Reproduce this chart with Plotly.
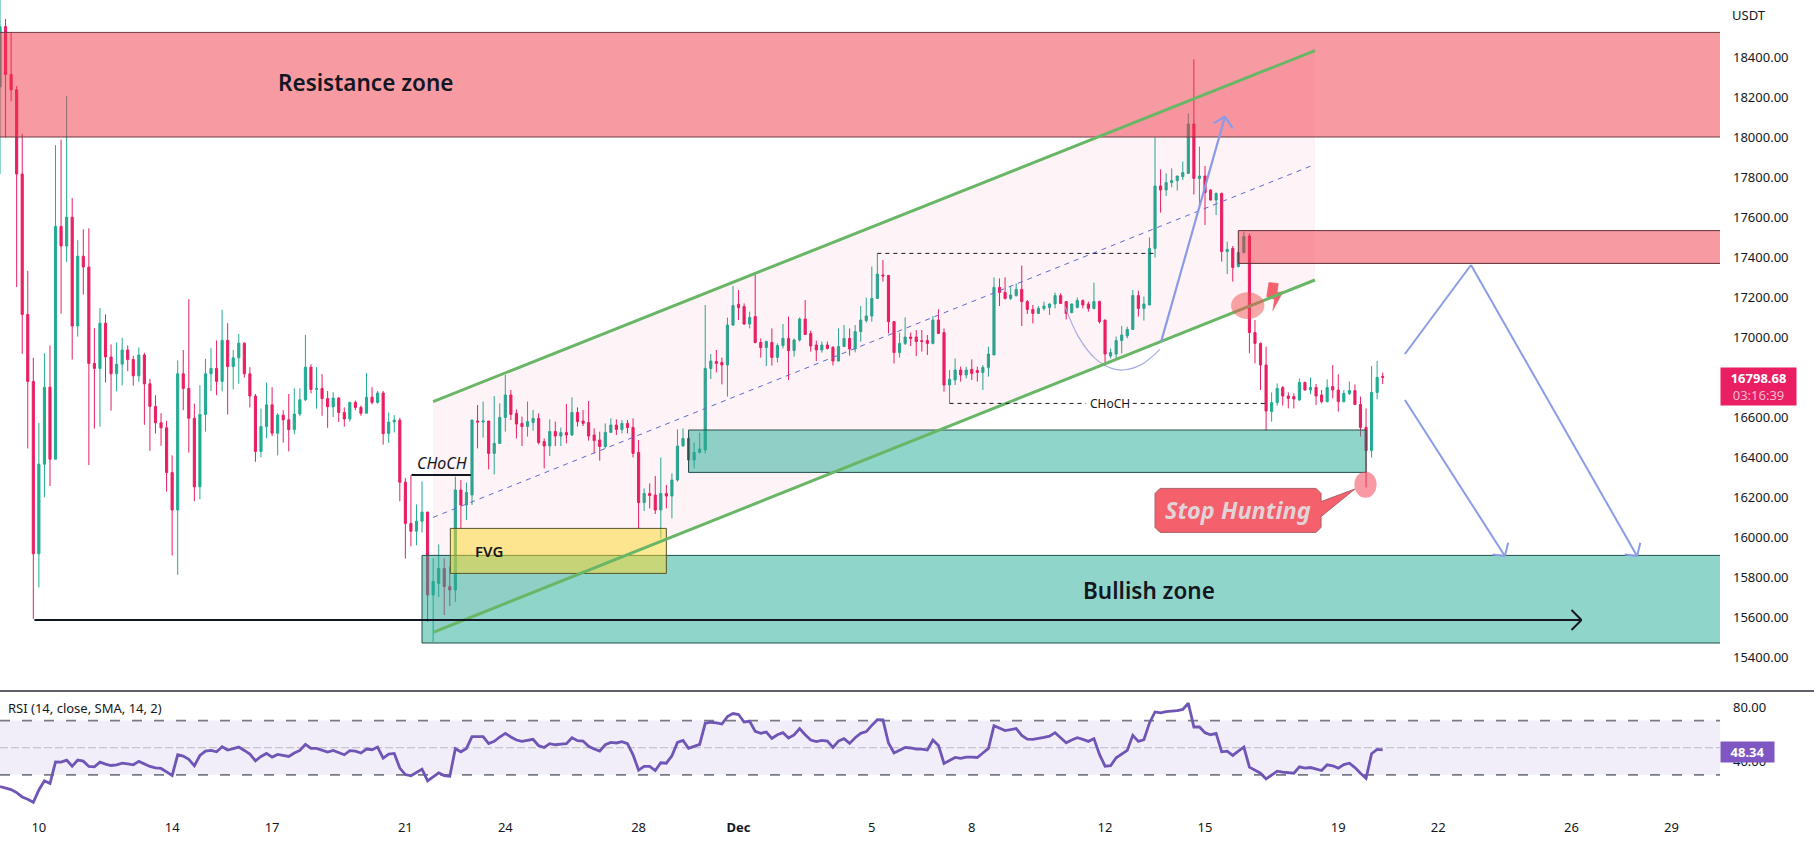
import datetime as dt
import plotly.graph_objects as go

opens = [
 18250,18552,18313,18236,17815,17113,16778,15916,16364,16749,
 16389,17553,17455,17599,17055,17404,17350,16868,16843,17069,
 16900,16816,16864,16935,16887,16806,16910,16766,16653,16571,
 16546,16322,16135,16816,16743,16594,16251,16613,16816,16843,
 16778,16983,16852,16896,16969,16816,16705,16428,16552,16661,
 16519,16609,16586,16537,16615,16686,16849,16738,16743,16692,
 16651,16695,16623,16590,16673,16648,16619,16699,16673,16720,
 16517,16575,16584,16274,16068,16029,16079,16125,15710,15768,
 15843,15752,15735,16235,16160,16210,16580,16575,16580,16418,
 16468,16598,16710,16618,16568,16552,16572,16593,16477,16455,
 16527,16505,16522,16510,16623,16580,16572,16510,16485,16452,
 16523,16560,16538,16568,16548,16423,16172,16218,16210,16135,
 16218,16205,16285,16455,16493,16385,16423,16435,16843,16877,
 16873,16860,17060,17163,17152,17065,17102,16973,16947,16973,
 16898,16957,16993,16932,16985,17090,17018,16960,16935,16960,
 16948,16880,16952,16993,16940,17027,17082,17105,17193,17310,
 17308,17077,16922,16968,17000,17000,16982,16982,16968,17085,
 17022,16760,16785,16835,16810,16838,16832,16823,16848,16910,
 17248,17223,17193,17207,17238,17177,17138,17118,17143,17148,
 17165,17207,17177,17122,17148,17182,17165,17143,17177,17085,
 16905,16915,16982,17005,17038,17207,17143,17160,17443,17755,
 17735,17772,17782,17802,17818,18065,17793,17805,17735,17685,
 17718,17427,17443,17352,17422,17505,17022,16968,16860,16627,
 16672,16747,16705,16702,16685,16773,16735,16748,16710,16677,
 16752,16735,16677,16718,16732,16663,16548,16432,16723,16802,
]
closes = [
 18552,18313,18236,17815,17113,16778,15916,16364,16749,16389,
 17553,17455,17599,17055,17404,17350,16868,16843,17069,16900,
 16816,16864,16935,16887,16806,16910,16766,16653,16571,16546,
 16322,16135,16816,16743,16594,16251,16613,16816,16843,16778,
 16983,16852,16896,16969,16816,16705,16428,16552,16661,16519,
 16609,16586,16537,16615,16686,16849,16738,16743,16692,16651,
 16695,16623,16590,16673,16648,16619,16699,16673,16720,16517,
 16575,16584,16274,16068,16029,16079,16125,15710,15777,15843,
 15752,15735,16235,16160,16223,16585,16575,16580,16418,16468,
 16598,16710,16613,16565,16552,16577,16593,16473,16455,16527,
 16505,16522,16510,16623,16577,16568,16505,16482,16452,16523,
 16560,16538,16568,16547,16418,16172,16218,16207,16135,16218,
 16205,16285,16455,16493,16385,16423,16440,16843,16880,16868,
 16860,17060,17157,17147,17065,17098,16973,16947,16977,16898,
 16957,16993,16932,16985,17090,17013,16955,16935,16960,16943,
 16880,16952,16993,16940,17027,17085,17105,17193,17315,17305,
 17077,16922,16968,17000,16993,16977,16977,16968,17085,17018,
 16760,16788,16835,16810,16835,16818,16823,16848,16915,17248,
 17223,17193,17210,17238,17177,17138,17118,17143,17155,17165,
 17207,17168,17118,17165,17182,17160,17143,17177,17077,16915,
 16922,16982,17010,17038,17207,17143,17165,17443,17755,17735,
 17772,17782,17805,17822,18065,17793,17805,17722,17685,17718,
 17427,17438,17348,17422,17502,17022,16968,16860,16630,16672,
 16743,16705,16693,16690,16773,16735,16748,16705,16677,16747,
 16735,16677,16718,16732,16663,16548,16432,16723,16798,16798.68,
]
highs = [
 18690,18590,18523,18255,18016,17331,16896,16571,16919,16958,
 17959,17987,18204,17695,17484,17538,17543,17044,17145,17113,
 16963,16973,16996,16958,16906,16948,16921,16791,16709,16619,
 16581,16408,16883,16935,17189,16667,16759,16891,16944,16983,
 17136,17069,16935,17015,16973,16849,16715,16642,16772,16749,
 16619,16634,16715,16743,16743,17011,16864,16849,16814,16730,
 16724,16699,16648,16676,16682,16657,16820,16749,16730,16730,
 16623,16609,16596,16294,16309,16163,16278,16125,15893,15963,
 15893,15852,16302,16285,16272,16585,16660,16677,16580,16705,
 16668,16810,16735,16638,16602,16677,16635,16618,16493,16588,
 16577,16547,16665,16698,16648,16635,16680,16543,16527,16568,
 16593,16588,16585,16585,16593,16485,16243,16268,16305,16397,
 16260,16318,16538,16543,16518,16472,16522,17160,16915,16935,
 16897,17097,17255,17235,17168,17127,17323,16993,16982,17043,
 16968,17065,17102,16993,17098,17185,17032,16982,16977,16977,
 16955,17043,17060,17043,17060,17155,17197,17352,17418,17385,
 17310,17080,17022,17098,17022,17035,17035,17010,17105,17138,
 17043,16835,16893,16852,16852,16888,16852,16860,16952,17298,
 17293,17298,17252,17268,17357,17185,17160,17155,17177,17168,
 17222,17218,17177,17168,17198,17188,17177,17272,17182,17085,
 16943,17002,17055,17052,17235,17232,17202,17498,17998,17838,
 17818,17843,17805,17877,18118,18388,17952,17855,17738,17723,
 17722,17477,17455,17427,17527,17518,17085,16972,16952,16723,
 16768,16755,16723,16718,16793,16777,16798,16765,16735,16788,
 16860,16813,16735,16777,16763,16702,16643,16855,16880,16822,
]
lows = [
 17815,17997,18179,17250,16916,16443,15590,15748,16198,16255,
 16389,17117,17375,16887,17002,17212,16360,16542,16552,16772,
 16632,16728,16757,16829,16757,16776,16561,16431,16517,16456,
 16227,15907,15811,16634,16422,16179,16188,16527,16730,16709,
 16728,16613,16738,16766,16797,16648,16376,16399,16494,16504,
 16408,16472,16428,16514,16604,16680,16718,16642,16606,16546,
 16600,16575,16552,16577,16634,16606,16619,16663,16667,16462,
 16470,16523,16179,15892,15953,15959,16022,15575,15475,15700,
 15610,15655,15675,16043,16085,16160,16443,16497,16338,16313,
 16468,16527,16585,16493,16455,16502,16532,16463,16343,16405,
 16455,16455,16468,16505,16552,16555,16482,16418,16382,16443,
 16523,16510,16518,16518,16398,16043,16130,16143,16115,15993,
 16143,16093,16277,16452,16327,16343,16418,16418,16790,16823,
 16763,16702,17055,17085,17060,17043,16968,16897,16855,16857,
 16873,16943,16785,16902,16977,17010,16927,16880,16922,16938,
 16857,16877,16952,16907,16923,16977,17072,17077,17190,17277,
 17018,16868,16897,16960,16955,16905,16927,16910,16963,17015,
 16727,16668,16760,16777,16793,16785,16777,16735,16802,16910,
 17155,17188,17185,17202,17055,17115,17068,17115,17132,17110,
 17143,17165,17088,17118,17143,17143,17127,17138,17068,16863,
 16893,16893,16918,16993,17035,17102,17082,17160,17397,17622,
 17705,17748,17732,17785,17815,17713,17657,17560,17682,17610,
 17377,17315,17277,17348,17418,16918,16868,16735,16530,16577,
 16657,16657,16643,16643,16682,16732,16715,16660,16668,16673,
 16693,16627,16672,16710,16660,16502,16248,16397,16688,16765,
]
rsi = [
 21.4,20.1,19.1,16.9,13.7,12.0,9.8,18.9,25.6,23.6,
 39.6,39.4,40.9,36.4,40.9,40.1,36.2,35.9,39.4,37.9,
 36.9,37.4,38.6,38.1,37.4,39.9,38.1,36.2,35.2,34.7,
 32.2,29.5,44.8,43.8,41.4,36.7,44.3,47.5,48.0,47.0,
 50.7,48.3,49.3,50.5,48.0,45.3,40.4,43.6,45.8,43.1,
 45.1,44.6,43.6,46.1,48.0,52.5,49.5,49.5,48.0,46.8,
 48.0,46.1,44.8,47.8,47.5,46.1,49.0,48.5,50.5,42.3,
 45.3,45.8,35.0,30.2,29.3,31.7,34.2,25.6,28.8,31.5,
 29.5,29.0,49.3,47.0,49.5,58.2,58.2,58.2,53.0,54.7,
 57.9,60.6,57.9,55.7,54.7,55.4,56.2,51.5,50.2,53.0,
 52.2,52.7,53.0,57.4,55.2,54.9,51.0,49.0,47.5,52.2,
 53.9,53.5,54.5,53.0,44.8,33.5,36.2,36.2,33.2,38.9,
 38.6,44.1,53.9,55.4,49.5,51.0,52.5,68.0,68.8,68.3,
 67.5,73.0,75.2,74.5,69.0,69.5,62.1,60.6,61.6,56.9,
 59.6,61.1,57.2,59.4,64.1,59.6,55.7,54.5,55.4,54.9,
 50.2,54.9,56.7,53.2,57.4,60.6,61.9,66.5,70.7,70.5,
 53.5,46.1,48.3,50.2,49.8,49.0,49.0,48.3,55.7,51.7,
 38.4,40.4,42.8,42.1,43.1,43.1,42.8,46.1,49.5,66.3,
 64.6,62.6,63.3,64.1,59.1,56.4,56.2,56.7,57.7,58.6,
 61.1,57.4,53.7,55.7,57.4,56.2,54.7,56.7,45.1,36.4,
 36.7,42.6,45.6,48.0,59.1,54.7,55.9,68.3,76.4,75.7,
 76.7,76.9,77.4,78.2,82.8,65.3,65.3,61.1,59.6,60.6,
 47.0,47.5,44.3,47.5,50.5,35.7,33.7,31.2,27.0,29.7,
 32.7,32.0,31.5,31.2,35.9,35.0,35.4,34.2,33.2,37.4,
 36.7,35.0,37.6,38.6,35.4,31.2,27.5,45.6,48.8,48.34,
]
tick_dates = ["2022-11-10","2022-11-14","2022-11-17","2022-11-21","2022-11-24","2022-11-28","2022-12-01",
              "2022-12-05","2022-12-08","2022-12-12","2022-12-15","2022-12-19","2022-12-22","2022-12-26","2022-12-29"]
tick_labels = ["10","14","17","21","24","28","<b>Dec</b>","5","8","12","15","19","22","26","29"]
price_ticks = [15400,15600,15800,16000,16200,16400,16600,16800,17000,17200,17400,17600,17800,18000,18200,18400]

W, H, PW, PH = 1814, 845, 1720, 812
BAR_PX = 5.553
BASE = dt.datetime(2022, 11, 8, 20, 0)
FONT = "Noto Sans"
INK = "#131722"
GREEN, RED = "#22AB94", "#E91E63"

def at(i):
    return (BASE + dt.timedelta(hours=4 * i)).isoformat()
def ts(values):
    return [at(v) for v in values]
def px(x):
    return x / PW
def py(y):
    return 1 - y / PH

dates = ts(range(len(opens)))
XR = [at(0), at(PW / BAR_PX)]

fig = go.Figure()

# channel fill
fig.add_trace(go.Scatter(x=ts([78, 236.8, 236.8, 78]), y=[16677, 18432, 17285, 15523], fill="toself",
                         mode="none", fillcolor="rgba(233,30,99,0.055)", hoverinfo="skip"))
fig.add_trace(go.Candlestick(x=dates, open=opens, high=highs, low=lows, close=closes, whiskerwidth=0,
    increasing=dict(line=dict(color=GREEN, width=1), fillcolor=GREEN),
    decreasing=dict(line=dict(color=RED, width=1), fillcolor=RED), hoverinfo="skip"))
# curved path
fig.add_trace(go.Scatter(x=ts([191.8, 194.2, 197.2, 200.2, 202.3, 205.6, 208.9]),
                         y=[17152, 17002, 16893, 16843, 16835, 16863, 16938], mode="lines",
                         line=dict(color="#A7AEE0", width=1.2, shape="spline"), hoverinfo="skip"))
# lightning bolt
fig.add_trace(go.Scatter(x=ts([228.5, 230.2, 230.0, 231.1, 229.2, 229.5, 228.1, 228.5]),
                         y=[17273, 17268, 17222, 17227, 17132, 17188, 17202, 17273], mode="lines", fill="toself",
                         fillcolor="#F4606C", line=dict(color="#F4606C", width=0.5), hoverinfo="skip"))
# Stop Hunting callout
cx0, cx1, cy0, cy1 = 208.0, 237.9, 16023, 16243
fig.add_trace(go.Scatter(
    x=ts([cx0 + .9, cx1 - .9, cx1, cx1, 244.0, cx1, cx1, cx1 - .9, cx0 + .9, cx0, cx0, cx0 + .9]),
    y=[cy1, cy1, cy1 - 25, 16177, 16240, 16102, cy0 + 25, cy0, cy0, cy0 + 25, cy1 - 25, cy1],
    mode="lines", fill="toself", fillcolor="#F4606C", line=dict(color="#A9626C", width=1), hoverinfo="skip"))
# RSI
fig.add_trace(go.Scatter(x=dates, y=rsi, mode="lines", xaxis="x2", yaxis="y2",
                         line=dict(color="#6F55B5", width=2.8), hoverinfo="skip"))

shapes = []
def rect(i0, i1, p0, p1, fill, border):
    shapes.append(dict(type="rect", xref="x", yref="y", x0=at(i0), x1=at(i1), y0=p0, y1=p1,
                       fillcolor=fill, line=dict(color=border, width=1), layer="above"))
def seg(i0, p0, i1, p1, color, width=1, dash="solid"):
    shapes.append(dict(type="line", xref="x", yref="y", x0=at(i0), x1=at(i1), y0=p0, y1=p1,
                       line=dict(color=color, width=width, dash=dash), layer="above"))
def oval(ic, pc, ri, rp, fill):
    shapes.append(dict(type="circle", xref="x", yref="y", x0=at(ic - ri), x1=at(ic + ri), y0=pc - rp, y1=pc + rp,
                       fillcolor=fill, line=dict(width=0), layer="above"))

rect(-5, 330, 18000, 18523, "rgba(242,54,69,0.5)", "#6E3B40")
rect(223, 330, 17368, 17532, "rgba(242,54,69,0.5)", "#5E3035")
rect(76, 330, 15470, 15908, "rgba(34,171,148,0.5)", "#1D4F4A")
rect(124, 246, 16323, 16535, "rgba(34,171,148,0.5)", "#24504B")
rect(81.1, 120, 15818, 16043, "rgba(252,215,40,0.5)", "#55552A")

CH = "#69B666"
seg(78, 16677, 236.8, 18432, CH, 3)
seg(78, 15523, 236.8, 17285, CH, 3)
seg(78, 16098, 236.8, 17863, "#5E6AD2", 1, "5px,5px")

seg(6.2, 15585, 284.8, 15585, INK, 2)
seg(283, 15635, 284.8, 15585, INK, 2)
seg(283, 15535, 284.8, 15585, INK, 2)
seg(74.1, 16310, 84.8, 16310, INK, 2)
seg(158, 17418, 208, 17418, INK, 1, "4px,4px")
seg(171, 16668, 195.6, 16668, INK, 1, "4px,4px")
seg(204, 16668, 228, 16668, INK, 1, "4px,4px")

BLUE = "#8A9BE8"
seg(209.1, 16977, 220.6, 18102, BLUE, 2.2)
seg(218.5, 18068, 220.6, 18102, BLUE, 2.2)
seg(222.0, 18043, 220.6, 18102, BLUE, 2.2)
seg(253, 16915, 264.9, 17360, BLUE, 2)
seg(264.9, 17360, 294.8, 15905, BLUE, 2)
seg(253, 16685, 271, 15905, BLUE, 2)
for tip in (271, 294.8):
    seg(tip + .6, 15971, tip, 15905, BLUE, 2)
    seg(tip - 2.2, 15913, tip, 15905, BLUE, 2)

oval(224.7, 17157, 3, 67, "rgba(240,80,80,0.5)")
oval(245.9, 16262, 2, 66, "rgba(242,70,90,0.55)")

# RSI pane
shapes.append(dict(type="rect", xref="paper", yref="y2", x0=0, x1=1, y0=30, y1=70,
                   fillcolor="rgba(126,87,194,0.1)", line=dict(width=0), layer="below"))
for lvl in (30, 70):
    shapes.append(dict(type="line", xref="paper", yref="y2", x0=0, x1=1, y0=lvl, y1=lvl,
                       line=dict(color="#787B86", width=1.8, dash="10px,12px"), layer="below"))
shapes.append(dict(type="line", xref="paper", yref="y2", x0=0, x1=1, y0=50, y1=50,
                   line=dict(color="rgba(120,123,134,0.45)", width=1, dash="8px,3px"), layer="below"))
shapes.append(dict(type="line", xref="paper", yref="paper", x0=0, x1=W / PW, y0=py(691), y1=py(691),
                   line=dict(color="#2A2E39", width=1.5)))

def note(text, i, p, size, color=INK, **kw):
    font = dict(family=FONT, size=size, color=color)
    font.update(kw.pop("font", {}))
    return dict(text=text, xref="x", yref="y", x=at(i), y=p, showarrow=False, font=font, **kw)

def pnote(text, x, y, size, color=INK, xanchor="left", **kw):
    return dict(text=text, xref="paper", yref="paper", x=px(x), y=py(y), showarrow=False, xanchor=xanchor,
                yanchor="middle", font=dict(family=FONT, size=size, color=color), **kw)

anns = [
    note("Resistance zone", 65.8, 18275, 22.5, font=dict(weight=600)),
    note("Bullish zone", 206.9, 15735, 22.5, font=dict(weight=600)),
    note("FVG", 88, 15932, 15, font=dict(weight=600)),
    note("<i>CHoCH</i>", 79.6, 16372, 16),
    note("CHoCH", 199.9, 16668, 12),
    note("<b><i>Stop Hunting</i></b>", 222.9, 16135, 23.5, color="#E3D3D6"),
    pnote("USDT", 1730, 15, 13),
    pnote("RSI (14, close, SMA, 14, 2)", 6, 708, 13),
    pnote("<b>16798.68</b><br><span style='color:#F8BBD0'>03:16:39</span>", 1720, 386.5, 13, color="white",
          bgcolor=RED, width=75, height=37, align="center", borderpad=0),
    pnote("<b>48.34</b>", 1720, 751.5, 13, color="white", bgcolor="#7E57C2", width=53, height=20,
          align="center", borderpad=0),
]

axis_common = dict(showgrid=False, zeroline=False, showline=False)
fig.update_layout(
    width=W, height=H, margin=dict(l=0, r=W - PW, t=0, b=H - PH), showlegend=False, boxgap=0.45,
    paper_bgcolor="white", plot_bgcolor="white", font=dict(family=FONT, color=INK, size=13),
    xaxis=dict(domain=[0, 1], type="date", range=XR, anchor="y", showticklabels=False,
               rangeslider=dict(visible=False), ticks="", **axis_common),
    xaxis2=dict(domain=[0, 1], type="date", matches="x", anchor="y2", tickmode="array", tickvals=tick_dates,
                ticktext=tick_labels, ticks="", tickfont=dict(family=FONT, size=13, color=INK),
                ticklabelstandoff=6, **axis_common),
    yaxis=dict(domain=[py(691), 1], range=[15230, 18685], side="right", anchor="x", tickmode="array",
               tickvals=price_ticks, ticktext=[f"{v}.00" for v in price_ticks], ticks="",
               ticklabelstandoff=12, tickfont=dict(family=FONT, size=13, color=INK), **axis_common),
    yaxis2=dict(domain=[0, py(692)], range=[2.6, 91.1], side="right", anchor="x2", tickmode="array",
                tickvals=[40, 80], ticktext=["40.00", "80.00"], ticks="", ticklabelstandoff=12,
                tickfont=dict(family=FONT, size=13, color=INK), **axis_common),
    shapes=shapes, annotations=anns,
)
fig.write_html("out.html", config={"displayModeBar": False},
               post_script="document.body.style.margin='0';document.body.style.overflow='hidden';")
